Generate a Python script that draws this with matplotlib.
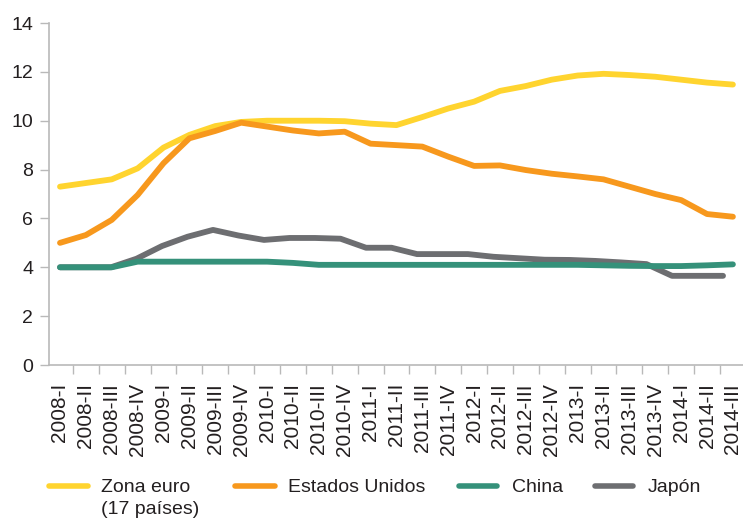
import numpy as np
import matplotlib
matplotlib.use("Agg")
import matplotlib.pyplot as plt
from matplotlib.lines import Line2D

# ---------------- data ----------------
periodos = ["2008-I", "2008-II", "2008-III", "2008-IV",
            "2009-I", "2009-II", "2009-III", "2009-IV",
            "2010-I", "2010-II", "2010-III", "2010-IV",
            "2011-I", "2011-II", "2011-III", "2011-IV",
            "2012-I", "2012-II", "2012-III", "2012-IV",
            "2013-I", "2013-II", "2013-III", "2013-IV",
            "2014-I", "2014-II", "2014-III"]

zona_euro = [7.3, 7.45, 7.6, 8.05, 8.9, 9.42, 9.78, 9.95, 10.0, 10.0, 10.0, 9.98,
             9.88, 9.82, 10.15, 10.5, 10.78, 11.22, 11.42, 11.68, 11.85, 11.92,
             11.87, 11.8, 11.68, 11.56, 11.48]
estados_unidos = [5.0, 5.32, 5.94, 6.96, 8.26, 9.28, 9.58, 9.92, 9.76, 9.6, 9.48, 9.55,
                  9.06, 9.0, 8.94, 8.53, 8.15, 8.17, 7.98, 7.83, 7.72, 7.6,
                  7.3, 7.0, 6.75, 6.18, 6.07]
china = [4.0, 4.0, 4.0, 4.23, 4.23, 4.23, 4.23, 4.23, 4.23, 4.18, 4.1, 4.1,
         4.1, 4.1, 4.1, 4.1, 4.1, 4.1, 4.1, 4.1, 4.1, 4.08,
         4.06, 4.05, 4.05, 4.08, 4.12]
japon = [4.0, 4.0, 4.0, 4.35, 4.87, 5.25, 5.53, 5.3, 5.12, 5.2, 5.2, 5.17,
         4.8, 4.8, 4.54, 4.54, 4.54, 4.43, 4.37, 4.31, 4.3, 4.26,
         4.2, 4.13, 3.65, 3.65, 3.65]

series_labels = ["Zona euro", "Estados Unidos", "China", "Japón"]
y_ticks = [0, 2, 4, 6, 8, 10, 12, 14]

# ---------------- style ----------------
col_euro = "#FFD42F"
col_us = "#F7981D"
col_china = "#35917A"
col_japon = "#6D6E71"
txt_col = "#231F20"
axis_col = "#B9B9B9"
plt.rcParams["font.family"] = ["Liberation Sans", "DejaVu Sans"]

W, H = 743, 519
fig = plt.figure(figsize=(W / 100, H / 100), dpi=100)
ax = fig.add_axes([49 / W, 1 - 365 / H, 1 - 49 / W, (365 - 23) / H])

x = np.arange(len(periodos))
# the Japan series is drawn on a slightly compressed horizontal scale in the original
x_jp = x * (25.5 / 25.88)

lw = 4.2
ax.plot(x_jp, japon, color=col_japon, lw=lw, solid_capstyle="round", solid_joinstyle="round", zorder=2)
ax.plot(x, china, color=col_china, lw=lw, solid_capstyle="round", solid_joinstyle="round", zorder=3)
ax.plot(x, zona_euro, color=col_euro, lw=lw, solid_capstyle="round", solid_joinstyle="round", zorder=4)
ax.plot(x, estados_unidos, color=col_us, lw=lw, solid_capstyle="round", solid_joinstyle="round", zorder=5)

ax.set_ylim(0, 14)
ax.set_xlim(-0.425, 26.39)
ax.set_yticks(y_ticks)
ax.set_yticklabels([str(v) for v in y_ticks])

# major ticks at boundaries (marks only), minor ticks at centres (labels only)
ax.set_xticks(x[:-1] + 0.5)
ax.set_xticklabels([])
ax.set_xticks(x, minor=True)
ax.set_xticklabels(periodos, minor=True, rotation=90, fontsize=15, color=txt_col)
ax.tick_params(axis="x", which="major", length=6.5, width=1.0, color=axis_col)
ax.tick_params(axis="x", which="minor", length=0, pad=13)
ax.tick_params(axis="y", length=6.5, width=1.0, color=axis_col, pad=5,
               labelsize=14, labelcolor=txt_col)

for s in ["top", "right"]:
    ax.spines[s].set_visible(False)
for s in ["left", "bottom"]:
    ax.spines[s].set_color(axis_col)
    ax.spines[s].set_linewidth(1.2)

# ---------------- legend (manual, first label on two lines) ----------------
def fx(px):
    return px / W

def fy(py):
    return 1 - py / H

handle_y = 485.5
legend_items = [
    (col_euro, 49, 88, 101),
    (col_us, 235, 275, 288),
    (col_china, 459, 497, 512),
    (col_japon, 595, 633, 648),
]
for (c, x0, x1, tx), lab in zip(legend_items, series_labels):
    fig.add_artist(Line2D([fx(x0), fx(x1)], [fy(handle_y), fy(handle_y)],
                          transform=fig.transFigure, color=c, lw=4.0,
                          solid_capstyle="round"))
    fig.text(fx(tx), fy(491.5), lab, fontsize=14, color=txt_col,
             ha="left", va="baseline")
fig.text(fx(101), fy(513.5), "(17 países)", fontsize=14, color=txt_col,
         ha="left", va="baseline")

fig.savefig("out.png", dpi=100)
